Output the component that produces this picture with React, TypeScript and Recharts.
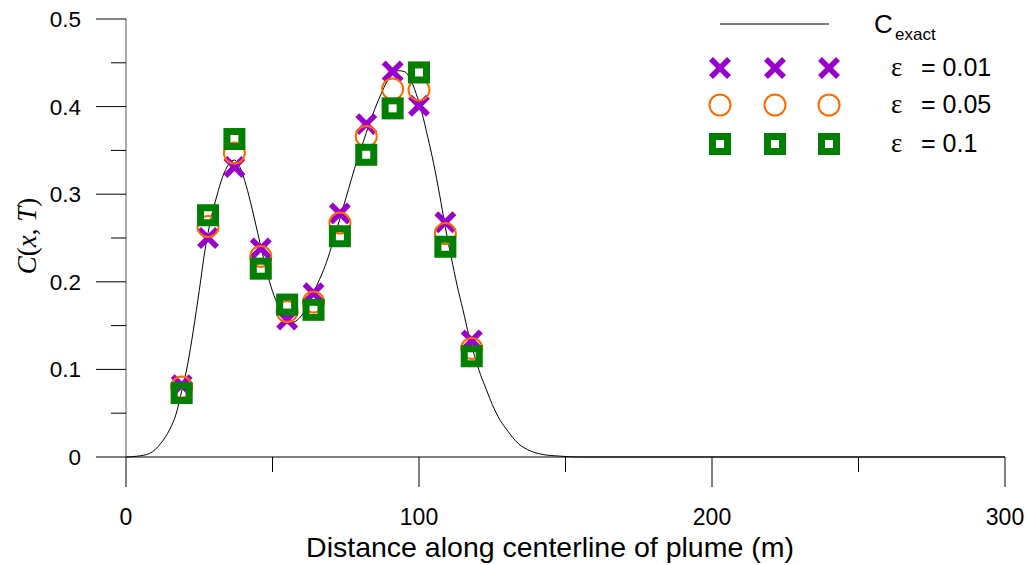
import React from 'react'
import { ComposedChart, Line, Scatter, XAxis, YAxis } from 'recharts'

// exact solution along the centerline
const exactX = [
  0, 4, 8, 12, 15, 17, 19, 21, 23, 25, 27, 29, 31, 33, 35, 37, 39, 41, 43, 45,
  47, 49, 51, 53, 55, 57, 59, 61, 63, 65, 67, 69, 71, 73, 75, 77, 79, 81, 83,
  85, 87, 89, 91, 93, 95, 97, 99, 101, 103, 105, 107, 109, 111, 113, 115, 117,
  119, 121, 123, 125, 127, 130, 134, 138, 142, 148, 155, 200, 250, 300
]
const exactC = [
  0, 0.001, 0.004, 0.016, 0.032, 0.048, 0.075, 0.105, 0.145, 0.19, 0.237,
  0.272, 0.298, 0.32, 0.334, 0.339, 0.33, 0.31, 0.284, 0.255, 0.226, 0.2, 0.18,
  0.166, 0.157, 0.154, 0.158, 0.167, 0.18, 0.195, 0.21, 0.228, 0.25, 0.272,
  0.295, 0.318, 0.34, 0.36, 0.38, 0.398, 0.414, 0.428, 0.437, 0.441, 0.44,
  0.432, 0.415, 0.393, 0.365, 0.335, 0.3, 0.262, 0.228, 0.196, 0.168, 0.139,
  0.115, 0.094, 0.077, 0.06, 0.046, 0.031, 0.015, 0.007, 0.003, 0.001, 0, 0, 0,
  0
]

// numerical results at the sample points
const sampleX = [19, 28, 37, 46, 55, 64, 73, 82, 91, 100, 109, 118]
const eps001 = [0.082, 0.25, 0.331, 0.238, 0.157, 0.187, 0.278, 0.38, 0.44, 0.401, 0.268, 0.133]
const eps005 = [0.08, 0.263, 0.347, 0.229, 0.166, 0.177, 0.267, 0.366, 0.42, 0.419, 0.255, 0.124]
const eps01 = [0.073, 0.276, 0.363, 0.215, 0.174, 0.168, 0.252, 0.345, 0.398, 0.439, 0.24, 0.115]

const xTicks = [0, 50, 100, 150, 200, 250, 300]
const yTicks = [0, 0.05, 0.1, 0.15, 0.2, 0.25, 0.3, 0.35, 0.4, 0.45, 0.5]

const exactData = exactX.map((x, i) => ({ x, c: exactC[i] }))
const toPoints = (values: number[]) => sampleX.map((x, i) => ({ x, c: values[i] }))

const sans = '"Liberation Sans", Arial, Helvetica, sans-serif'
const serif = '"Liberation Serif", "Times New Roman", serif'

const colors = {
  cross: '#9a00cc',
  circle: '#ff6a00',
  square: '#007f00'
}

const CrossMark = ({ cx, cy }: { cx: number; cy: number }) => (
  <g stroke={colors.cross} strokeWidth={5.5}>
    <line x1={cx - 9} y1={cy - 9} x2={cx + 9} y2={cy + 9} />
    <line x1={cx - 9} y1={cy + 9} x2={cx + 9} y2={cy - 9} />
  </g>
)

const CircleMark = ({ cx, cy }: { cx: number; cy: number }) => (
  <circle cx={cx} cy={cy} r={10.5} fill="none" stroke={colors.circle} strokeWidth={2} />
)

const SquareMark = ({ cx, cy }: { cx: number; cy: number }) => (
  <rect x={cx - 7.5} y={cy - 7.5} width={15} height={15} fill="none" stroke={colors.square} strokeWidth={7} />
)

const series = [
  { name: 'eps001', label: '0.01', values: eps001, Mark: CrossMark },
  { name: 'eps005', label: '0.05', values: eps005, Mark: CircleMark },
  { name: 'eps01', label: '0.1', values: eps01, Mark: SquareMark }
]

const XTick = (props: any) => {
  const { x, y, payload } = props
  const major = payload.value % 100 === 0
  return (
    <g>
      <line x1={x} x2={x} y1={y} y2={y + (major ? 30 : 15)} stroke="#000" />
      {major && (
        <text x={x} y={y + 68} textAnchor="middle" fontSize={23} fontFamily={sans} fill="#000">
          {payload.value}
        </text>
      )}
    </g>
  )
}

const YTick = (props: any) => {
  const { x, y, payload } = props
  const major = Math.round(payload.value * 100) % 10 === 0
  return (
    <g>
      <line x1={x - (major ? 30 : 15)} x2={x} y1={y} y2={y} stroke="#000" />
      {major && (
        <text x={x - 45} y={y} dy={8} textAnchor="end" fontSize={22.5} fontFamily={sans} fill="#000">
          {payload.value === 0 ? '0' : payload.value.toFixed(1)}
        </text>
      )}
    </g>
  )
}

const XTitle = () => (
  <text x={550} y={557} textAnchor="middle" fontSize={28.5} fontFamily={sans} fill="#000">
    Distance along centerline of plume (m)
  </text>
)

const YTitle = () => (
  <text
    x={27}
    y={236}
    transform="rotate(-90 27 236)"
    textAnchor="middle"
    dominantBaseline="central"
    fontSize={27}
    fontFamily={serif}
    fill="#000"
  >
    <tspan fontStyle="italic">C</tspan>
    <tspan>(</tspan>
    <tspan fontStyle="italic">x</tspan>
    <tspan>, </tspan>
    <tspan fontStyle="italic">T</tspan>
    <tspan>)</tspan>
  </text>
)

const legendMarkX = [720, 775, 829]
const legendRowY = [68, 105, 144]

const ChartLegend = () => (
  <svg
    width={1034}
    height={565}
    style={{ position: 'absolute', left: 0, top: 0, pointerEvents: 'none' }}
  >
    <line x1={720} x2={829} y1={24} y2={24} stroke="#000" strokeWidth={1} />
    <text x={874} y={33} fontSize={26} fontFamily={sans} fill="#000">
      C
    </text>
    <text x={895} y={40} fontSize={17} fontFamily={sans} fill="#000">
      exact
    </text>
    {series.map((s, row) => (
      <g key={s.name}>
        {legendMarkX.map((mx) => (
          <s.Mark key={mx} cx={mx} cy={legendRowY[row]} />
        ))}
        <text x={891} y={legendRowY[row] + 8} fontSize={27} fontFamily={serif} fill="#000">
          ε
        </text>
        <text x={921} y={legendRowY[row] + 8} fontSize={25} fontFamily={sans} fill="#000">
          = {s.label}
        </text>
      </g>
    ))}
  </svg>
)

export default function App(): JSX.Element {
  return (
    <div style={{ position: 'absolute', left: 0, top: 0, width: 1034, height: 565, background: '#fff' }}>
      <ComposedChart width={1034} height={565} margin={{ top: 19, right: 29, bottom: 0, left: 0 }}>
        <XAxis
          dataKey="x"
          type="number"
          domain={[0, 300]}
          ticks={xTicks}
          interval={0}
          height={108}
          tickSize={0}
          tickMargin={0}
          tickLine={false}
          axisLine={{ stroke: '#000' }}
          tick={<XTick />}
          label={{ content: <XTitle /> }}
        />
        <YAxis
          type="number"
          domain={[0, 0.5]}
          ticks={yTicks}
          interval={0}
          width={126}
          tickSize={0}
          tickMargin={0}
          tickLine={false}
          axisLine={{ stroke: '#555' }}
          tick={<YTick />}
          label={{ content: <YTitle /> }}
        />
        <Line
          data={exactData}
          dataKey="c"
          type="monotone"
          stroke="#000"
          strokeWidth={1}
          dot={false}
          activeDot={false}
          isAnimationActive={false}
        />
        {series.map((s) => (
          <Scatter
            key={s.name}
            name={s.name}
            data={toPoints(s.values)}
            dataKey="c"
            isAnimationActive={false}
            shape={(p: any) => <s.Mark cx={p.cx} cy={p.cy} />}
          />
        ))}
      </ComposedChart>
      <ChartLegend />
    </div>
  )
}
